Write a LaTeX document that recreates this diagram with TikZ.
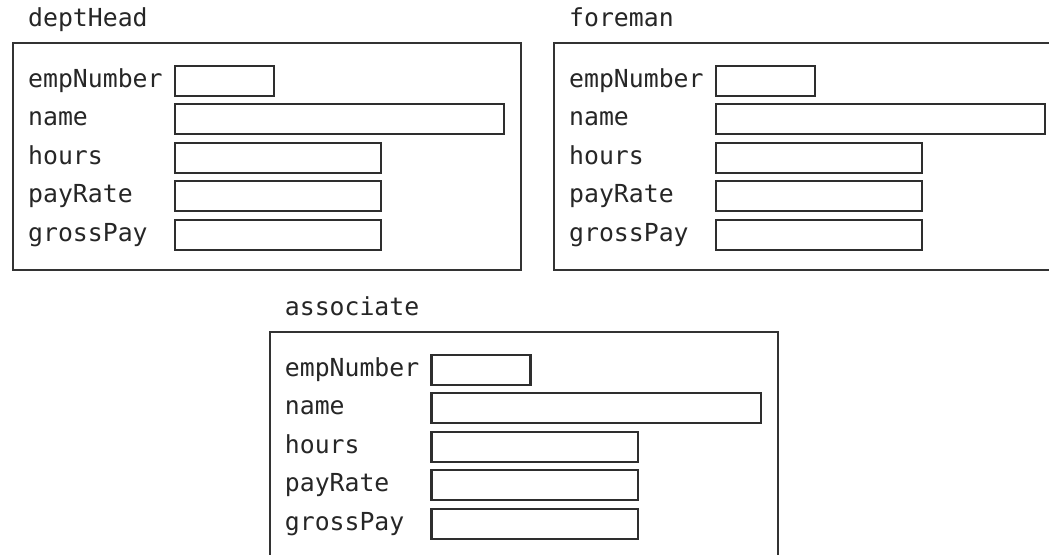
\documentclass[tikz,border=0pt]{standalone}
\usepackage{fontspec}
\setmonofont{DejaVu Sans Mono}
\begin{document}
\begin{tikzpicture}[x=1pt,y=-1pt,
  recbox/.style={draw=black!80,line width=1.8pt,rectangle,inner sep=0pt,anchor=north west,minimum width=508pt,minimum height=227pt},
  fieldbox/.style={draw=black!82,line width=2.3pt,rectangle,inner sep=0pt,anchor=north west,minimum height=30pt},
  lbl/.style={text=black!85,inner sep=0pt,anchor=base west,font=\ttfamily\fontsize{24.8}{29}\selectfont}]
\useasboundingbox (0,0) rectangle (1049,554);
\clip (0,0) rectangle (1049,554);
\fill[white] (0,0) rectangle (1049,554);
\foreach \r/\sx/\sy/\t in {dh/0/0/deptHead, fm/541/0/foreman, as/256.7/289/associate}{
  \begin{scope}[shift={(\sx,\sy)}]
    \node[lbl] (\r-title) at (28,26.7) {\t};
    \node[recbox] (\r-box) at (12,42) {};
    \foreach \i/\lab/\w in {1/empNumber/99, 2/name/329.5, 3/hours/206.5, 4/payRate/206.5, 5/grossPay/206.5}{
      \pgfmathsetmacro{\top}{64.5+38.5*(\i-1)}
      \node[lbl] (\r-l\i) at (28,\top+22.5) {\lab};
      \node[fieldbox,minimum width=\w pt] (\r-f\i) at (173.5,\top) {};
    }
  \end{scope}
}
\end{tikzpicture}
\end{document}
